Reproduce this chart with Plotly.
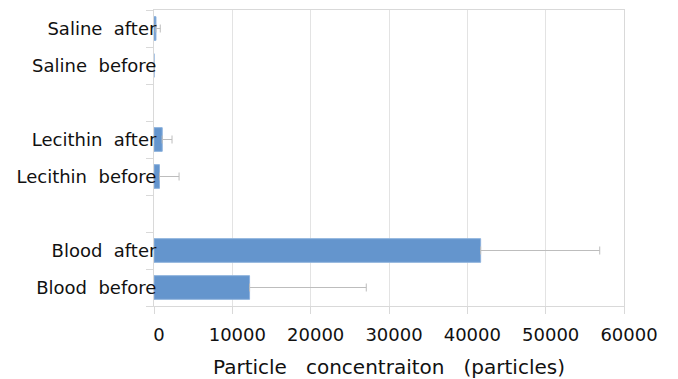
import plotly.graph_objects as go

# Categories listed bottom-to-top on the horizontal bar chart; blank slots separate the groups
categories = ["Blood before", "Blood after", " ",
              "Lecithin before", "Lecithin after", "  ",
              "Saline before", "Saline after"]
samples = ["Blood before", "Blood after",
           "Lecithin before", "Lecithin after",
           "Saline before", "Saline after"]
means = [12200, 41700, 700, 1050, 0, 250]
errors = [14900, 15200, 2500, 1250, 0, 550]
tick_values = [0, 10000, 20000, 30000, 40000, 50000, 60000]
tick_labels = ["0", "10000", "20000", "30000", "40000", "50000", "60000"]

NB = "\u00a0"
label_text = {c: c.replace(" ", NB + NB) if c.strip() else c for c in categories}

fig = go.Figure()
fig.add_trace(go.Bar(
    y=samples,
    x=means,
    orientation="h",
    width=0.64,
    marker=dict(color="#6495CD", line=dict(color="#8DB2DD", width=1)),
    error_x=dict(type="data", symmetric=False, array=errors,
                 arrayminus=[0] * len(errors),
                 color="#BDBDBD", thickness=1, width=4),
    showlegend=False,
))

font_family = "DejaVu Sans"
fig.update_layout(
    width=678, height=379,
    margin=dict(l=154, r=54, t=10, b=73),
    plot_bgcolor="white",
    paper_bgcolor="white",
    font=dict(family=font_family, color="#111111"),
    xaxis=dict(
        range=[0, 60000],
        automargin=False,
        tickvals=tick_values,
        ticktext=tick_labels,
        tickfont=dict(size=18, color="#111111"),
        ticks="outside", ticklen=7, tickcolor="#D9D9D9",
        showgrid=True, gridcolor="#E3E3E3", gridwidth=1,
        showline=True, linecolor="#D9D9D9", linewidth=1, mirror=True,
        zeroline=False,
        ticklabelshift=5,
        ticklabelstandoff=5,
        title=dict(text=f"Particle{NB}{NB}{NB}concentraiton{NB}{NB}{NB}(particles)",
                   font=dict(size=20, color="#111111"), standoff=17),
    ),
    yaxis=dict(
        type="category",
        automargin=False,
        categoryorder="array",
        categoryarray=categories,
        tickvals=categories,
        ticktext=[label_text[c] for c in categories],
        tickfont=dict(size=18, color="#111111"),
        ticks="outside", ticklen=7, tickcolor="#D9D9D9",
        tickson="boundaries",
        ticklabelstandoff=-7,
        showgrid=False,
        showline=True, linecolor="#D9D9D9", linewidth=1, mirror=True,
        range=[-0.5, 7.5],
    ),
)

fig.write_html("out.html")
